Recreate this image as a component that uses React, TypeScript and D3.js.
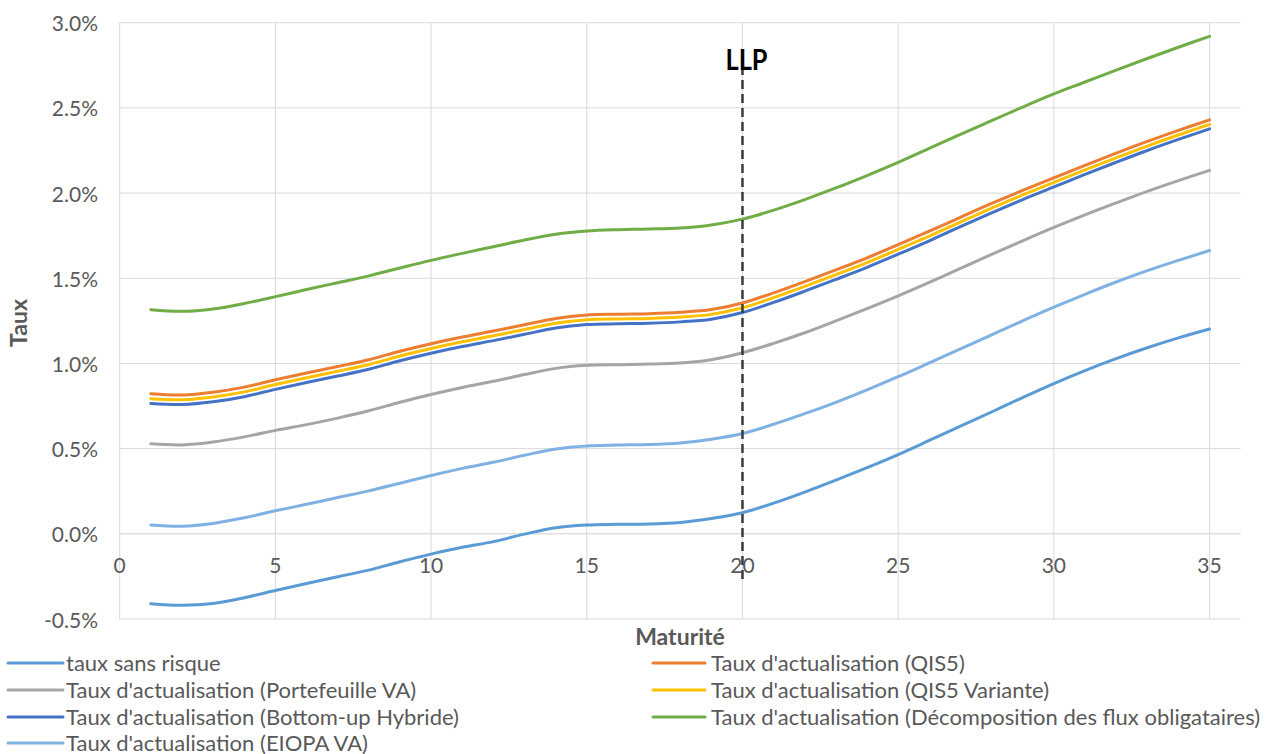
import React from "react";
import * as d3 from "d3";

// Maturités (années)
const maturities = [
  1, 2, 3, 4, 5, 6, 7, 8, 9, 10, 11, 12, 13, 14, 15, 16, 17, 18, 19, 20,
  21, 22, 23, 24, 25, 26, 27, 28, 29, 30, 31, 32, 33, 34, 35,
];

// Taux en %
const tauxSansRisque = [
  -0.411, -0.42, -0.409, -0.375, -0.333, -0.292, -0.252, -0.213, -0.164, -0.119,
  -0.079, -0.046, -0.002, 0.036, 0.052, 0.056, 0.058, 0.067, 0.09, 0.124,
  0.18, 0.245, 0.315, 0.388, 0.465, 0.548, 0.632, 0.715, 0.8, 0.882,
  0.958, 1.028, 1.092, 1.15, 1.202,
];
const tauxQIS5 = [
  0.822, 0.815, 0.831, 0.861, 0.904, 0.944, 0.982, 1.022, 1.072, 1.116,
  1.155, 1.19, 1.227, 1.264, 1.284, 1.289, 1.292, 1.3, 1.316, 1.355,
  1.414, 1.48, 1.549, 1.62, 1.697, 1.776, 1.858, 1.939, 2.016, 2.09,
  2.163, 2.234, 2.303, 2.368, 2.43,
];
const tauxPortefeuilleVA = [
  0.528, 0.522, 0.539, 0.569, 0.607, 0.641, 0.679, 0.722, 0.772, 0.818,
  0.859, 0.895, 0.935, 0.971, 0.989, 0.993, 0.996, 1.003, 1.022, 1.063,
  1.118, 1.18, 1.25, 1.322, 1.397, 1.476, 1.558, 1.64, 1.72, 1.798,
  1.872, 1.942, 2.01, 2.073, 2.133,
];
const tauxQIS5Variante = [
  0.793, 0.787, 0.803, 0.833, 0.876, 0.916, 0.954, 0.994, 1.044, 1.088,
  1.127, 1.162, 1.199, 1.236, 1.256, 1.261, 1.264, 1.272, 1.288, 1.327,
  1.386, 1.452, 1.521, 1.592, 1.669, 1.748, 1.83, 1.911, 1.989, 2.063,
  2.136, 2.207, 2.276, 2.341, 2.403,
];
const tauxBottomUp = [
  0.765, 0.759, 0.775, 0.805, 0.848, 0.888, 0.926, 0.966, 1.016, 1.06,
  1.099, 1.134, 1.171, 1.208, 1.228, 1.233, 1.236, 1.244, 1.26, 1.299,
  1.358, 1.424, 1.493, 1.564, 1.641, 1.72, 1.803, 1.884, 1.962, 2.036,
  2.11, 2.181, 2.25, 2.315, 2.377,
];
const tauxDecomposition = [
  1.315, 1.306, 1.32, 1.352, 1.392, 1.434, 1.474, 1.514, 1.56, 1.605,
  1.646, 1.685, 1.724, 1.758, 1.777, 1.785, 1.789, 1.795, 1.813, 1.847,
  1.9, 1.962, 2.03, 2.103, 2.18, 2.262, 2.345, 2.425, 2.505, 2.582,
  2.652, 2.722, 2.79, 2.856, 2.92,
];
const tauxEIOPA = [
  0.052, 0.045, 0.061, 0.094, 0.135, 0.173, 0.213, 0.252, 0.297, 0.342,
  0.384, 0.42, 0.461, 0.498, 0.516, 0.521, 0.524, 0.533, 0.555, 0.589,
  0.643, 0.705, 0.772, 0.845, 0.922, 1.003, 1.085, 1.168, 1.25, 1.33,
  1.406, 1.478, 1.545, 1.605, 1.663,
];

const seriesNames = [
  "taux sans risque",
  "Taux d'actualisation (QIS5)",
  "Taux d'actualisation (Portefeuille VA)",
  "Taux d'actualisation (QIS5 Variante)",
  "Taux d'actualisation (Bottom-up Hybride)",
  "Taux d'actualisation (Décomposition des flux obligataires)",
  "Taux d'actualisation (EIOPA VA)",
];
const seriesValues = [
  tauxSansRisque,
  tauxQIS5,
  tauxPortefeuilleVA,
  tauxQIS5Variante,
  tauxBottomUp,
  tauxDecomposition,
  tauxEIOPA,
];
const seriesColors = [
  "#5B9BD5",
  "#ED7D31",
  "#A5A5A5",
  "#FFC000",
  "#4472C4",
  "#70AD47",
  "#7FB2E2",
];

const xTicks = [0, 5, 10, 15, 20, 25, 30, 35];
const yTicks = [-0.5, 0, 0.5, 1.0, 1.5, 2.0, 2.5, 3.0];
const llpMaturity = 20;

const W = 1267;
const H = 754;
const FONT = "Lato, 'Open Sans', sans-serif";
const TEXT = "#595959";

export default function App() {
  const x = d3.scaleLinear().domain([0, 36]).range([119.7, 1240.7]);
  const y = d3.scaleLinear().domain([-0.5, 3.0]).range([619, 22.7]);

  const line = d3
    .line<number>()
    .x((_, i) => x(maturities[i]))
    .y((v) => y(v))
    .curve(d3.curveCatmullRom.alpha(0.5));

  const legendRows = [663, 690, 717, 743];
  const legendCols = [
    { x0: 8, x1: 63, tx: 66 },
    { x0: 653, x1: 705, tx: 711 },
  ];

  return (
    <svg
      width={W}
      height={H}
      style={{ position: "absolute", left: 0, top: 0, background: "#fff" }}
      fontFamily={FONT}
    >
      <rect width={W} height={H} fill="#fff" />

      {/* horizontal grid */}
      {yTicks.map((t) => (
        <line
          key={"gy" + t}
          x1={x(0)}
          x2={x(36)}
          y1={y(t)}
          y2={y(t)}
          stroke={t === 0 ? "#CFCFCF" : "#D9D9D9"}
          strokeWidth={1}
        />
      ))}
      {/* vertical grid */}
      {xTicks.map((t) => (
        <line
          key={"gx" + t}
          x1={x(t)}
          x2={x(t)}
          y1={y(3.0)}
          y2={y(-0.5)}
          stroke="#D9D9D9"
          strokeWidth={1}
        />
      ))}

      {/* y tick labels */}
      {yTicks.map((t) => (
        <text
          key={"ly" + t}
          x={98}
          y={y(t) + 8.5}
          textAnchor="end"
          fontSize={21}
          fill={TEXT}
        >
          {t.toFixed(1) + "%"}
        </text>
      ))}
      {/* x tick labels */}
      {xTicks.map((t) => (
        <text
          key={"lx" + t}
          x={x(t)}
          y={573}
          textAnchor="middle"
          fontSize={21}
          fill={TEXT}
        >
          {t}
        </text>
      ))}

      {/* series */}
      {seriesValues.map((vals, i) => (
        <path
          key={"s" + i}
          d={line(vals) || ""}
          fill="none"
          stroke={seriesColors[i]}
          strokeWidth={3}
          strokeLinecap="round"
          strokeLinejoin="round"
        />
      ))}

      {/* LLP marker */}
      <line
        x1={x(llpMaturity)}
        x2={x(llpMaturity)}
        y1={66}
        y2={582}
        stroke="#3A3A3A"
        strokeWidth={2.5}
        strokeDasharray="9 5"
      />
      <text
        x={x(llpMaturity) + 4}
        y={70}
        textAnchor="middle"
        fontSize={28}
        fontWeight={700}
        fill="#000"
        textLength={42}
        lengthAdjust="spacingAndGlyphs"
      >
        LLP
      </text>

      {/* axis titles */}
      <text
        x={680}
        y={645}
        textAnchor="middle"
        fontSize={23}
        fontWeight={700}
        fill={TEXT}
      >
        Maturité
      </text>
      <text
        transform="translate(27,323) rotate(-90)"
        textAnchor="middle"
        fontSize={23}
        fontWeight={700}
        fill={TEXT}
      >
        Taux
      </text>

      {/* legend */}
      {seriesNames.map((name, i) => {
        const col = legendCols[i % 2];
        const ry = legendRows[Math.floor(i / 2)];
        return (
          <g key={"lg" + i}>
            <line
              x1={col.x0}
              x2={col.x1}
              y1={ry}
              y2={ry}
              stroke={seriesColors[i]}
              strokeWidth={3}
              strokeLinecap="round"
            />
            <text x={col.tx} y={ry + 7.5} fontSize={22} fill={TEXT}>
              {name}
            </text>
          </g>
        );
      })}
    </svg>
  );
}
